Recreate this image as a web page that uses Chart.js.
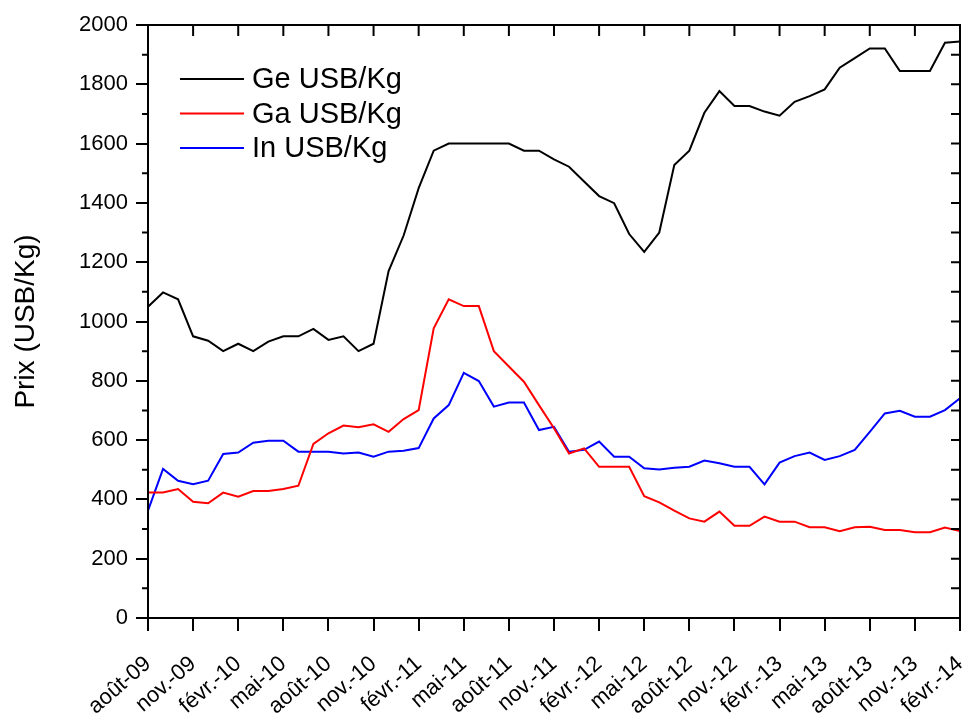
<!DOCTYPE html>
<html>
<head>
<meta charset="utf-8">
<script src="https://cdn.jsdelivr.net/npm/chart.js@4"></script>
<style>
  body { margin: 0; background: #fff; }
</style>
</head>
<body>
<canvas id="myChart" width="967" height="715"></canvas>
<script>
// Months, août 2009 -> févr. 2014 (one point per month)
const months = [
  "août-09", "sept.-09", "oct.-09", "nov.-09", "déc.-09",
  "janv.-10", "févr.-10", "mars-10", "avr.-10", "mai-10", "juin-10", "juil.-10", "août-10", "sept.-10", "oct.-10", "nov.-10", "déc.-10",
  "janv.-11", "févr.-11", "mars-11", "avr.-11", "mai-11", "juin-11", "juil.-11", "août-11", "sept.-11", "oct.-11", "nov.-11", "déc.-11",
  "janv.-12", "févr.-12", "mars-12", "avr.-12", "mai-12", "juin-12", "juil.-12", "août-12", "sept.-12", "oct.-12", "nov.-12", "déc.-12",
  "janv.-13", "févr.-13", "mars-13", "avr.-13", "mai-13", "juin-13", "juil.-13", "août-13", "sept.-13", "oct.-13", "nov.-13", "déc.-13",
  "janv.-14", "févr.-14"
];

// Prices (USB/Kg)
const gePrices = [
  1050, 1098, 1075, 950, 935, 900, 925, 900, 932, 950, 950, 975, 938, 950, 900, 925,
  1170, 1290, 1450, 1576, 1600, 1600, 1600, 1600, 1600, 1576, 1576, 1547, 1522, 1472,
  1423, 1399, 1295, 1235, 1300, 1528, 1576, 1704, 1777, 1727, 1727, 1708, 1694, 1741,
  1760, 1783, 1856, 1888, 1921, 1921, 1845, 1845, 1845, 1940, 1944
];
const gaPrices = [
  423, 423, 435, 392, 387, 423, 409, 428, 428, 435, 446, 587, 623, 649, 643, 653,
  628, 671, 701, 977, 1075, 1052, 1052, 900, 848, 797, 718, 640, 555, 572,
  510, 510, 510, 411, 390, 362, 336, 325, 359, 311, 311, 342, 325, 325,
  306, 306, 293, 306, 308, 297, 297, 289, 289, 305, 293
];
const inPrices = [
  362, 503, 463, 451, 463, 553, 558, 591, 598, 598, 561, 561, 561, 555, 558, 544,
  561, 564, 573, 673, 718, 827, 799, 713, 727, 727, 634, 645, 561, 567,
  595, 544, 544, 505, 501, 507, 510, 531, 522, 510, 510, 451, 524, 546,
  558, 533, 546, 567, 628, 690, 699, 679, 679, 701, 741
];

const seriesLabels = ["Ge USB/Kg", "Ga USB/Kg", "In USB/Kg"];
const seriesColors = ["#000000", "#ff0000", "#0000ff"];

const FONT = "'Liberation Sans', Arial, sans-serif";

// frame, inner ticks and the legend inside the plot
const framePlugin = {
  id: "frame",
  afterDraw(chart) {
    const { ctx, chartArea: a, scales } = chart;
    const x = scales.x, y = scales.y;
    ctx.save();
    ctx.strokeStyle = "#000";
    ctx.lineWidth = 2;
    ctx.strokeRect(a.left, a.top, a.right - a.left, a.bottom - a.top);

    ctx.beginPath();
    months.forEach((m, i) => {
      if (i % 3 !== 0) return;
      const px = x.getPixelForValue(i);
      ctx.moveTo(px, a.top);
      ctx.lineTo(px, a.top + 11);
    });
    for (let v = 100; v < 2000; v += 100) {
      const py = y.getPixelForValue(v);
      ctx.moveTo(a.right, py);
      ctx.lineTo(a.right - 9, py);
      if (v % 200 !== 0) {
        ctx.moveTo(a.left, py);
        ctx.lineTo(a.left - 6, py);
      }
    }
    ctx.stroke();

    // legend
    ctx.font = "29px " + FONT;
    ctx.textBaseline = "middle";
    ctx.textAlign = "left";
    chart.data.datasets.forEach((ds, k) => {
      const ly = a.top + 54 + k * 34.5;
      ctx.strokeStyle = ds.borderColor;
      ctx.lineWidth = 2;
      ctx.beginPath();
      ctx.moveTo(a.left + 32, ly);
      ctx.lineTo(a.left + 96, ly);
      ctx.stroke();
      ctx.fillStyle = "#000";
      ctx.fillText(ds.label, a.left + 104, ly + 1);
    });
    ctx.restore();
  }
};

function makeDataset(i, values) {
  return {
    label: seriesLabels[i],
    data: values,
    borderColor: seriesColors[i],
    backgroundColor: seriesColors[i],
    borderWidth: 2,
    pointRadius: 0,
    tension: 0,
    fill: false
  };
}

new Chart(document.getElementById("myChart"), {
  type: "line",
  data: {
    labels: months,
    datasets: [makeDataset(0, gePrices), makeDataset(1, gaPrices), makeDataset(2, inPrices)]
  },
  options: {
    responsive: false,
    animation: false,
    layout: { padding: { top: 25, right: 7, left: 0, bottom: 0 } },
    plugins: {
      legend: { display: false },
      tooltip: { enabled: false }
    },
    scales: {
      x: {
        offset: false,
        border: { display: true, color: "#000", width: 2 },
        grid: {
          drawOnChartArea: false,
          drawTicks: true,
          tickLength: 13,
          lineWidth: 2,
          tickColor: (c) => (c.index % 3 === 0 ? "#000" : "rgba(0,0,0,0)")
        },
        ticks: {
          autoSkip: false,
          maxRotation: 41,
          minRotation: 41,
          padding: 20,
          color: "#000",
          font: { family: FONT, size: 22 },
          callback: function (val, i) {
            return i % 3 === 0 ? months[i] : "";
          }
        },
        afterFit: (s) => {
          s.height = 97;
          s.paddingLeft = 0;
          s.paddingRight = 0;
        }
      },
      y: {
        min: 0,
        max: 2000,
        border: { display: true, color: "#000", width: 2 },
        grid: {
          drawOnChartArea: false,
          drawTicks: true,
          tickLength: 12,
          lineWidth: 2,
          tickColor: "#000"
        },
        ticks: {
          stepSize: 200,
          padding: 8,
          color: "#000",
          font: { family: FONT, size: 22 },
          callback: (v) => String(v)
        },
        title: {
          display: true,
          text: "Prix (USB/Kg)",
          color: "#000",
          font: { family: FONT, size: 28 },
          padding: { top: 9, bottom: 0 }
        },
        afterFit: (s) => {
          s.width = 148;
          s.paddingTop = 0;
          s.paddingBottom = 0;
        }
      }
    }
  },
  plugins: [framePlugin]
});
</script>
</body>
</html>
